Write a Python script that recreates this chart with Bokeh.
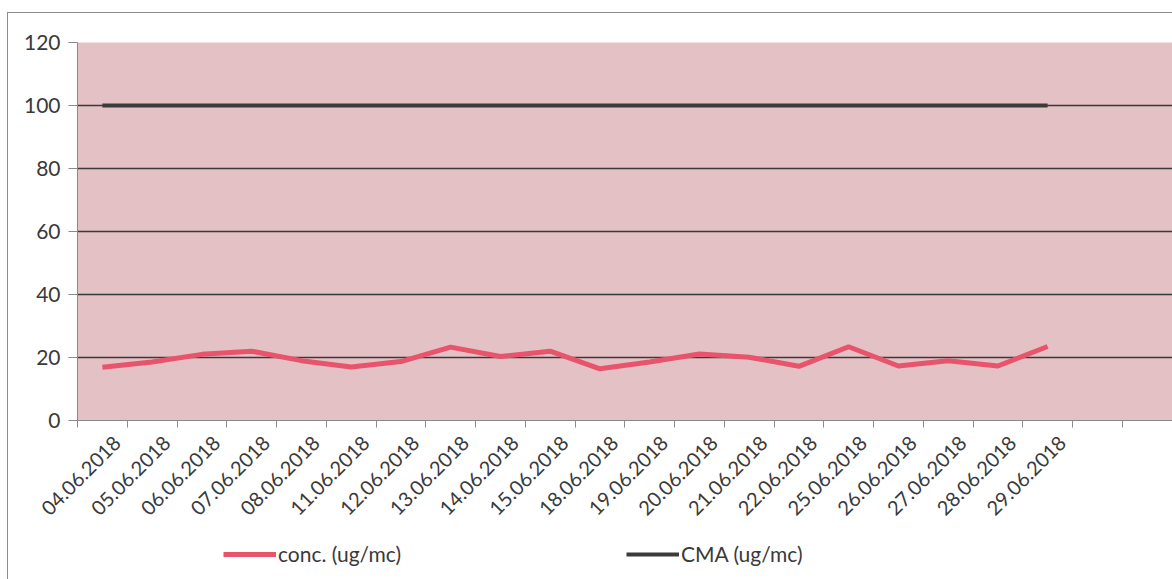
import math
from bokeh.plotting import figure
from bokeh.layouts import column
from bokeh.models import (FixedTicker, Legend, LegendItem, ColumnDataSource,
                          Range1d, LinearAxis)
from bokeh.embed import file_html
from bokeh.resources import INLINE

dates = ["04.06.2018", "05.06.2018", "06.06.2018", "07.06.2018", "08.06.2018",
         "11.06.2018", "12.06.2018", "13.06.2018", "14.06.2018", "15.06.2018",
         "18.06.2018", "19.06.2018", "20.06.2018", "21.06.2018", "22.06.2018",
         "25.06.2018", "26.06.2018", "27.06.2018", "28.06.2018", "29.06.2018"]
conc = [16.9, 18.6, 21.0, 22.0, 19.0, 17.0, 18.7, 23.3, 20.3, 22.0,
        16.4, 18.6, 21.1, 20.1, 17.2, 23.4, 17.3, 19.0, 17.3, 23.5]
cma = [100, 100, 100, 100, 100, 100, 100, 100, 100, 100,
       100, 100, 100, 100, 100, 100, 100, 100, 100, 100]
y_ticks = [0, 20, 40, 60, 80, 100, 120]

FONT = "Lato"
TXT = "#3a3a3a"
PINK = "#e8546c"
DARK = "#3b3b3b"
LBL_SHIFT = 0.3  # labels sit slightly right of the category centre

xs = list(range(len(dates)))
src = ColumnDataSource(dict(x=xs, conc=conc, cma=cma))

x0, x1 = -0.5, 21.53
p = figure(frame_width=1095, frame_height=377, output_backend="svg",
           toolbar_location=None, x_axis_location=None,
           x_range=Range1d(x0, x1), y_range=Range1d(0, 120),
           min_border_left=69, min_border_right=0, min_border_top=29,
           min_border_bottom=0)
p.styles = {"margin-left": "7px", "margin-top": "12px",
            "border-left": "1px solid #8c8c8c", "border-top": "1px solid #8c8c8c"}
p.background_fill_color = "#e4c1c4"
p.border_fill_color = "white"
p.outline_line_color = None

p.line("x", "conc", source=src, line_color=PINK, line_width=5)
p.line("x", "cma", source=src, line_color=DARK, line_width=4)

# grid
p.xgrid.grid_line_color = None
p.ygrid.grid_line_color = "#3a3a3a"
p.ygrid.grid_line_width = 1.5
p.ygrid.ticker = FixedTicker(ticks=y_ticks)

# y axis
p.yaxis.ticker = FixedTicker(ticks=y_ticks)
p.yaxis.axis_line_color = "#8a8a8a"
p.yaxis.major_tick_line_color = "#8a8a8a"
p.yaxis.major_tick_out = 9
p.yaxis.major_tick_in = 0
p.yaxis.minor_tick_line_color = None
p.yaxis.major_label_text_font = FONT
p.yaxis.major_label_text_font_size = "21px"
p.yaxis.major_label_text_color = TXT
p.yaxis.major_label_standoff = 8

# x axis (on a slightly shifted range so rotated labels end right of centre)
p.extra_x_ranges = {"lab": Range1d(x0 - LBL_SHIFT, x1 - LBL_SHIFT)}
xax = LinearAxis(x_range_name="lab")
xax.ticker = FixedTicker(ticks=xs,
                         minor_ticks=[i - 0.5 - LBL_SHIFT for i in range(23)])
xax.major_label_overrides = {i: d for i, d in enumerate(dates)}
xax.major_label_orientation = math.pi / 4
xax.axis_line_color = "#8a8a8a"
xax.major_tick_line_color = None
xax.minor_tick_line_color = "#8a8a8a"
xax.minor_tick_out = 7
xax.minor_tick_in = 0
xax.major_label_text_font = FONT
xax.major_label_text_font_size = "20px"
xax.major_label_text_color = TXT
xax.major_label_standoff = 12
p.add_layout(xax, "below")

# legend strip below the chart (its sample lines use the same data, kept out of view)
lg = figure(width=1164, height=57, output_backend="svg", toolbar_location=None,
            x_axis_location=None, y_axis_location=None,
            x_range=Range1d(x0, x1), y_range=Range1d(1000, 1001),
            min_border=0)
lg.styles = {"margin-left": "7px", "border-left": "1px solid #8c8c8c"}
lg.outline_line_color = None
lg.background_fill_color = "white"
lg.border_fill_color = "white"
lg.xgrid.grid_line_color = None
lg.ygrid.grid_line_color = None
l_conc = lg.line("x", "conc", source=src, line_color=PINK, line_width=5)
l_cma = lg.line("x", "cma", source=src, line_color=DARK, line_width=4)

legend = Legend(items=[LegendItem(label="conc. (ug/mc)", renderers=[l_conc]),
                       LegendItem(label="CMA (ug/mc)", renderers=[l_cma])],
                orientation="horizontal", location=(146, 14))
legend.label_text_font = FONT
legend.label_text_font_size = "21px"
legend.label_text_color = TXT
legend.glyph_width = 53
legend.label_standoff = 2
legend.label_width = 341
legend.spacing = 7
legend.padding = 6
legend.margin = 0
legend.border_line_color = None
legend.background_fill_alpha = 0
lg.add_layout(legend, "center")

open("out.html", "w").write(file_html(column(p, lg), INLINE))
